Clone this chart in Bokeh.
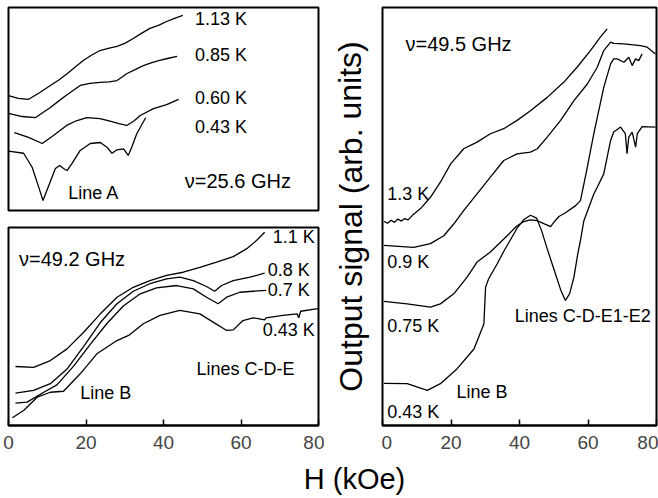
import math
from bokeh.plotting import figure
from bokeh.layouts import row, column
from bokeh.models import Range1d, FixedTicker
from bokeh.core.properties import value
from bokeh.embed import file_html
from bokeh.resources import INLINE

FONT = "Liberation Sans"
X_TICKS = [0, 20, 40, 60, 80]

# ---------------- top-left panel: nu = 25.6 GHz ----------------
tl_113_H = [0, 2.5, 5.1, 8, 10.8, 13, 15.2, 17.3, 19.3, 21.5, 23.6, 26, 28, 30, 32.2, 34.5, 36.5, 38.7, 40.8, 43, 45]
tl_113_S = [56.6, 55.2, 54.7, 58.0, 61.6, 64.3, 67.5, 70.8, 73.9, 76.6, 78.8, 80.0, 80.8, 82.3, 84.7, 87.5, 89.7, 91.2, 93.1, 94.8, 96.1]
tl_085_H = [0, 3.5, 7, 10.8, 13, 15.2, 18.5, 21, 23.7, 26, 28, 30.6, 32.8, 34.8, 37, 39, 41.3, 43.5]
tl_085_S = [47.8, 46.3, 45.8, 50.7, 54.0, 57.1, 61.6, 62.6, 63.1, 63.4, 64.0, 67.5, 69.5, 71.4, 72.8, 73.9, 75.0, 75.9]
tl_060_H = [1.5, 5, 8.7, 11.6, 15, 17.5, 20.2, 23.6, 26.2, 28.5, 30.5, 32.3, 34, 37.4, 40.8, 43.9]
tl_060_S = [38.4, 36.1, 33.0, 36.9, 41.9, 44.2, 45.8, 45.3, 44.0, 42.8, 41.9, 44.0, 46.8, 50.2, 52.2, 54.7]
tl_043_H = [0, 3.9, 6.1, 7.8, 8.9, 10.4, 12.1, 13.2, 14.2, 15.1, 16.4, 18.5, 21.1,
            23.7, 25.4, 26.7, 28, 29.7, 30.9, 31.8, 33.1, 35.4]
tl_043_S = [29.2, 28.2, 21.3, 11.5, 4.9, 12.3, 20.7, 22.2, 20.7, 19.7, 23.2, 29.6, 33.0,
            33.5, 31.2, 28.2, 29.9, 30.4, 27.1, 31.2, 37.8, 45.7]

# ---------------- bottom-left panel: nu = 49.2 GHz ----------------
bl_11_H = [1.8, 6.5, 10.8, 15.1, 19.4, 23.7, 28, 32.2, 36.5, 40.8, 45.1, 49.4, 53.7, 58, 61.4, 64, 66.1]
bl_11_S = [29.8, 29.4, 32.8, 38.7, 47.1, 56.4, 64.8, 69.8, 73.2, 75.8, 77.4, 79.9, 82.5, 85.3, 89.2, 93.4, 97.6]
bl_08_H = [1.8, 6.5, 10.8, 15.1, 19.4, 23.7, 28, 32.2, 36.5, 40.8, 44.2, 47.7, 51.1, 53.2, 55, 58, 62.3, 66.1]
bl_08_S = [16.3, 17.7, 21.1, 28.5, 40.0, 52.0, 61.5, 67.8, 71.6, 74.1, 74.9, 73.2, 70.2, 67.8, 70.7, 73.2, 74.9, 76.9]
bl_07_H = [1.8, 4.8, 9.1, 12.5, 16.8, 21.1, 25.4, 29.7, 34, 38.2, 43.4, 47.7, 51.1, 54.1, 56.3, 59.7, 63.1, 66.5]
bl_07_S = [11.3, 11.8, 16.8, 20.5, 30.0, 41.0, 51.5, 60.5, 66.5, 69.5, 70.7, 69.0, 64.8, 61.5, 64.8, 67.3, 67.8, 68.2]
bl_043_H = [1, 3.9, 7.4, 10.8, 14.2, 18.5, 22.8, 28, 31, 34.8, 39.1, 44.2, 49.4, 52.8, 56.3, 58,
            60.5, 63.1, 66.1, 66.5, 70.8, 74.5, 74.9, 75.4, 79.4, 80]
bl_043_S = [3.9, 7.6, 14.3, 16.8, 17.3, 26.1, 36.2, 42.9, 45.5, 51.4, 55.6, 58.1, 56.4, 52.2, 48.0, 48.3,
            53.0, 54.4, 53.4, 54.4, 55.6, 56.4, 54.4, 57.7, 58.9, 58.9]

# ---------------- right panel: nu = 49.5 GHz ----------------
r_13_H = [0.4, 1.5, 2.5, 3.5, 4.5, 5.5, 6.5, 7.5, 9, 11.1, 14, 16.9, 19.9, 23.7, 27.6, 31.5, 35.4, 39.3,
          43.2, 48.1, 52.9, 56.8, 60.7, 63.6, 65.6]
r_13_S = [48.8, 48.4, 49.1, 48.6, 49.4, 48.9, 49.5, 49.2, 50.5, 51.9, 54.6, 58.2, 62.6, 66.2, 67.8, 69.8,
          71.0, 73.0, 75.3, 78.5, 82.1, 85.7, 89.7, 92.9, 94.9]
r_09_H = [0.4, 9.1, 14.0, 17.9, 20.8, 23.7, 27.6, 31.5, 35.4, 39.3, 43.2, 45.2, 48.1, 52.0, 55.9, 59.8,
          62.7, 64.6, 66.6, 67.5, 70.5, 75.3, 77.3, 79.7]
r_09_S = [43.1, 42.6, 43.5, 45.4, 48.2, 51.4, 55.4, 59.4, 63.4, 65.0, 65.4, 66.2, 69.0, 73.0, 77.7, 81.7,
          85.7, 89.7, 91.7, 91.4, 91.3, 90.9, 90.5, 88.9]
r_075_H = [0.4, 7.2, 14.0, 16.9, 20.8, 24.7, 27.6, 31.5, 36.4, 39.3, 41.3, 43.2, 45.2, 47.1, 49.1, 50.0,
           51.5, 53.4, 56.4, 57.8, 59.6, 61.7, 64.6, 66.6, 67.5, 68.5, 70.5, 71.9, 72.9, 73.9, 74.8, 75.8]
r_075_S = [29.7, 29.1, 28.3, 29.1, 31.5, 35.5, 39.1, 41.5, 45.4, 47.8, 48.8, 49.2, 49.0, 48.3, 47.6, 48.6,
           50.0, 50.9, 52.6, 53.8, 61.0, 69.8, 80.9, 86.5, 87.7, 87.7, 86.9, 88.1, 86.1, 87.7, 87.3, 88.9]
r_043_H = [0.4, 7.2, 13.1, 16.9, 21.8, 26.7, 29.6, 30.1, 31.0, 33.5, 35.5, 37.4, 39.3, 41.3, 43.2, 45.0,
           46.5, 48.0, 50.0, 52.0, 53.4, 54.6, 55.9, 57.0, 57.8, 58.8, 61.7, 62.7, 64.6, 66.6, 67.5, 69.5,
           70.9, 71.4, 71.9, 72.9, 73.9, 74.4, 75.8, 79.7]
r_043_S = [10.1, 10.0, 8.4, 10.0, 13.6, 18.3, 24.3, 33.1, 35.1, 38.7, 41.8, 44.5, 47.2, 49.3, 50.3, 49.6,
           46.5, 42.5, 37.5, 32.5, 29.9, 31.5, 35.5, 41.0, 44.3, 49.0, 55.4, 57.0, 60.2, 68.2, 70.2, 71.4,
           69.8, 65.0, 69.0, 70.2, 66.6, 69.8, 71.5, 71.4]


def base(p):
    p.outline_line_color = "black"
    p.outline_line_width = 2
    p.grid.visible = False
    p.background_fill_color = "white"
    p.border_fill_color = "white"


def xaxis_style(p):
    ax = p.xaxis[0]
    ax.ticker = FixedTicker(ticks=X_TICKS)
    ax.major_tick_in = 6
    ax.major_tick_out = 0
    ax.minor_tick_line_color = None
    ax.major_tick_line_width = 1.5
    ax.axis_line_width = 2
    ax.major_label_text_font = FONT
    ax.major_label_text_font_size = "19px"
    ax.major_label_standoff = 10


def curve(p, xs, ys):
    p.line(xs, ys, line_color="black", line_width=1.3)


def txt(p, x, y, s, size="18px"):
    p.text(x=[x], y=[y], text=[s], text_font=value(FONT), text_font_size=size,
           text_baseline="middle", text_align="left", text_color="black")


def blank(p):
    p.outline_line_color = None
    p.grid.visible = False
    p.background_fill_color = "white"
    p.border_fill_color = "white"


# top-left
tl = figure(frame_width=310, frame_height=203, x_range=Range1d(0, 80), y_range=Range1d(0, 100),
            x_axis_location=None, y_axis_location=None, toolbar_location=None, output_backend="svg",
            min_border_left=8, min_border_right=6, min_border_top=7, min_border_bottom=16)
base(tl)
for xs, ys in [(tl_113_H, tl_113_S), (tl_085_H, tl_085_S), (tl_060_H, tl_060_S), (tl_043_H, tl_043_S)]:
    curve(tl, xs, ys)
txt(tl, 48.1, 94.1, "1.13 K")
txt(tl, 48.1, 76.8, "0.85 K")
txt(tl, 48.1, 55.2, "0.60 K")
txt(tl, 48.1, 40.9, "0.43 K")
txt(tl, 15.4, 8.4, "Line A")
txt(tl, 45.5, 14.3, "\u03bd=25.6 GHz", "20px")

# bottom-left
bl = figure(frame_width=310, frame_height=198, x_range=Range1d(0, 80), y_range=Range1d(0, 100),
            y_axis_location=None, toolbar_location=None, output_backend="svg",
            min_border_left=8, min_border_right=6, min_border_top=1, min_border_bottom=33)
base(bl)
xaxis_style(bl)
for xs, ys in [(bl_11_H, bl_11_S), (bl_08_H, bl_08_S), (bl_07_H, bl_07_S), (bl_043_H, bl_043_S)]:
    curve(bl, xs, ys)
txt(bl, 68.2, 95.1, "1.1 K")
txt(bl, 66.9, 78.6, "0.8 K")
txt(bl, 66.9, 68.5, "0.7 K")
txt(bl, 65.6, 48.0, "0.43 K")
txt(bl, 2.7, 84.2, "\u03bd=49.2 GHz", "20px")
txt(bl, 18.5, 16.3, "Line B")
txt(bl, 48.5, 28.6, "Lines C-D-E")

# y label strip
ylab = figure(width=57, height=458, x_range=Range1d(0, 57), y_range=Range1d(0, 458),
              x_axis_location=None, y_axis_location=None, toolbar_location=None, output_backend="svg",
              min_border=0)
blank(ylab)
ylab.text(x=[26], y=[229], text=["Output signal (arb. units)"], angle=[math.pi / 2],
          text_font=value(FONT), text_font_size="32px", text_align="center",
          text_baseline="middle", text_color="black")

# right
rp = figure(frame_width=274, frame_height=418, x_range=Range1d(0, 80), y_range=Range1d(0, 100),
            y_axis_location=None, toolbar_location=None, output_backend="svg",
            min_border_left=1, min_border_right=2, min_border_top=7, min_border_bottom=33)
base(rp)
xaxis_style(rp)
for xs, ys in [(r_13_H, r_13_S), (r_09_H, r_09_S), (r_075_H, r_075_S), (r_043_H, r_043_S)]:
    curve(rp, xs, ys)
txt(rp, 6.7, 91.3, "\u03bd=49.5 GHz", "20px")
txt(rp, 1.4, 55.4, "1.3 K")
txt(rp, 1.4, 39.1, "0.9 K")
txt(rp, 1.4, 23.9, "0.75 K")
txt(rp, 1.4, 3.2, "0.43 K")
txt(rp, 21.6, 8.0, "Line B")
txt(rp, 38.6, 26.3, "Lines C-D-E1-E2")

# shared x label
xl = figure(width=658, height=38, x_range=Range1d(0, 658), y_range=Range1d(0, 38),
            x_axis_location=None, y_axis_location=None, toolbar_location=None, output_backend="svg",
            min_border=0)
blank(xl)
xl.text(x=[354], y=[18], text=["H (kOe)"], text_font=value(FONT), text_font_size="29px",
        text_baseline="middle", text_align="center", text_color="black")

layout = column(row(column(tl, bl), ylab, rp), xl)

open("out.html", "w").write(file_html(layout, INLINE))
